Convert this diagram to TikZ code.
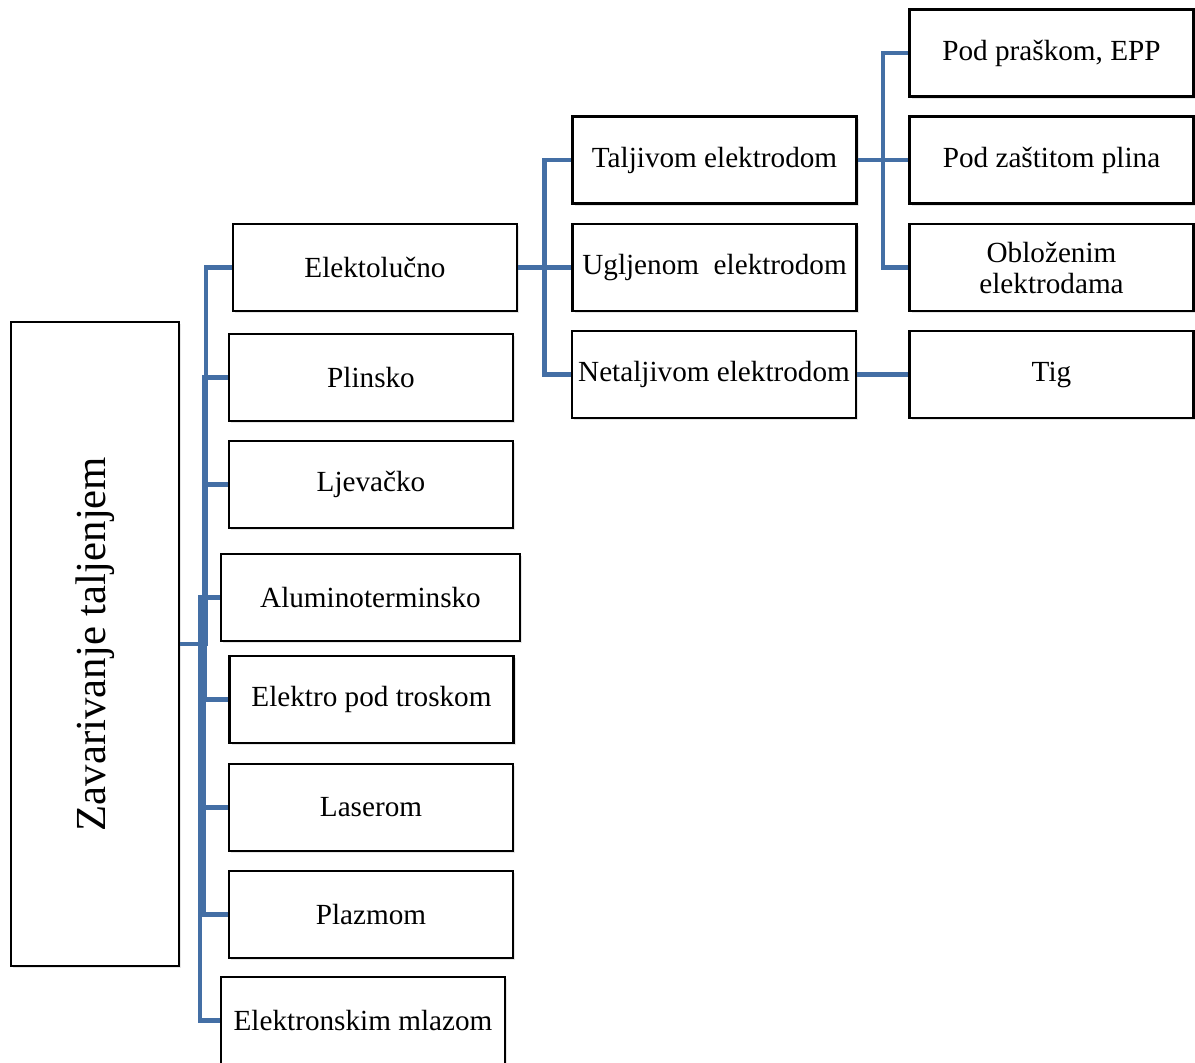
\documentclass[tikz,border=0pt]{standalone}
\usepackage{fontspec}
\setmainfont{Liberation Serif}
\usetikzlibrary{calc,shadows}
\definecolor{vezaplava}{RGB}{68,111,165}
\tikzset{
  kutija/.style={draw=black, line width=1.2pt, fill=white,
    minimum width=142pt, minimum height=43.5pt, inner sep=2pt,
    align=center, font=\fontsize{14.6}{15.5}\selectfont,
    drop shadow={shadow xshift=1.2pt, shadow yshift=-1.2pt, opacity=.2}},
  veza/.style={draw=vezaplava, line width=2.4pt},
  lakat/.style={to path={-| ($(\tikztostart)!.5!(\tikztotarget)$) |- (\tikztotarget)}}
}

\begin{document}
\begin{tikzpicture}[x=.5pt,y=-.5pt]
\useasboundingbox (0,0) rectangle (1195,1063);
%glavni blok
\node[kutija, minimum width=84pt, minimum height=322pt,
  font=\fontsize{21.4}{24}\selectfont] (zt) at (95,644)
  {\rotatebox{90}{Zavarivanje taljenjem}};
%prvi nivo
\node[kutija] (el) at (375,267.5) {Elektolučno};
\node[kutija] (pl) at (371,377.5) {Plinsko};
\node[kutija] (lj) at (371,484.5) {Ljevačko};
\node[kutija, minimum width=149.5pt] (al) at (370.5,597.5) {Aluminoterminsko};
\node[kutija] (ep) at (371.5,699.5) {Elektro pod troskom};
\node[kutija] (la) at (371,807.5) {Laserom};
\node[kutija] (pz) at (371,914.5) {Plazmom};
\node[kutija] (em) at (363,1020.5) {Elektronskim mlazom};
%drugi nivo
\node[kutija] (te) at (714.5,160) {Taljivom elektrodom};
\node[kutija] (ue) at (714.5,267.5) {Ugljenom \ elektrodom};
\node[kutija] (ne) at (714,374.5) {Netaljivom elektrodom};
%treci nivo
\node[kutija] (pp) at (1051.5,53) {Pod praškom, EPP};
\node[kutija] (zp) at (1051.5,160) {Pod zaštitom plina};
\node[kutija] (oe) at (1051.5,267.5) {Obloženim\\elektrodama};
\node[kutija] (tg) at (1051.5,374.5) {Tig};
%veze
\foreach \d in {el,pl,lj,al,ep,la,pz,em}
  \draw[veza] (zt.east) to[lakat] (\d.west);
\foreach \d in {te,ue,ne}
  \draw[veza] (el.east) to[lakat] (\d.west);
\foreach \d in {pp,zp,oe}
  \draw[veza] (te.east) to[lakat] (\d.west);
\draw[veza] (ne) -- (tg);
\end{tikzpicture}
\end{document}
